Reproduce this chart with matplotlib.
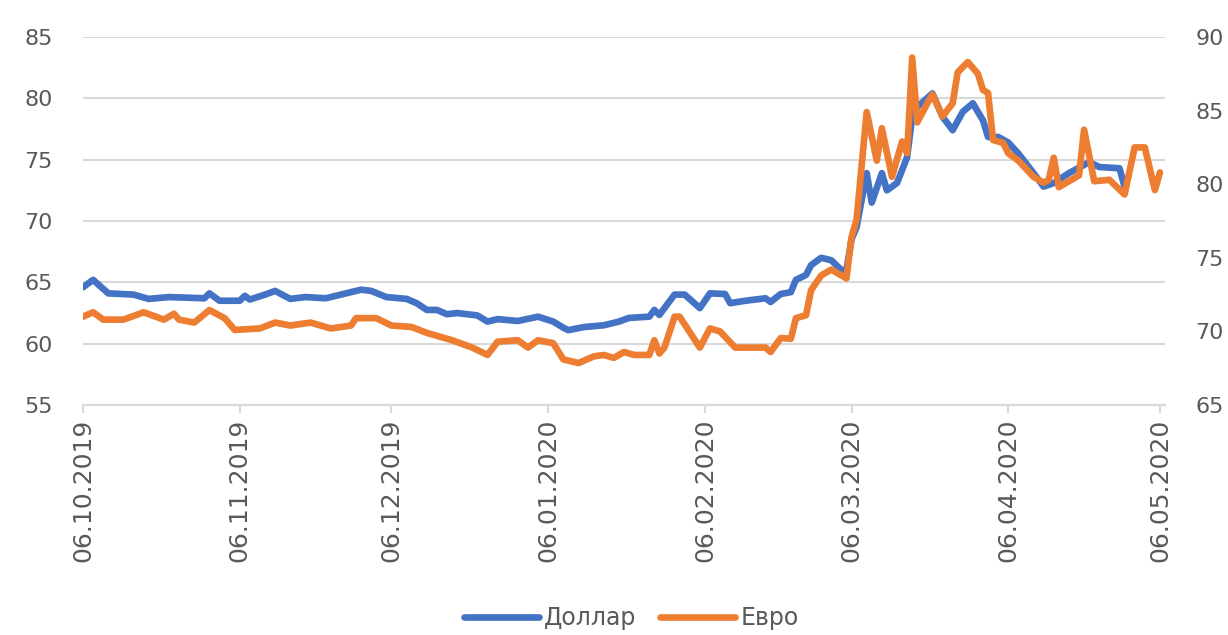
import numpy as np
import pandas as pd
import matplotlib
matplotlib.use('Agg')
import matplotlib.pyplot as plt
import matplotlib.dates as mdates

plt.rcParams['font.family'] = ['DejaVu Sans']

# ── Data ──────────────────────────────────────────────────────────────────────
usd_dates = ['2019-10-06', '2019-10-08', '2019-10-11', '2019-10-16', '2019-10-19',
             '2019-10-23', '2019-10-30', '2019-10-31', '2019-11-02', '2019-11-06',
             '2019-11-07', '2019-11-08', '2019-11-11', '2019-11-13', '2019-11-16',
             '2019-11-19', '2019-11-23', '2019-11-26', '2019-11-30', '2019-12-02',
             '2019-12-05', '2019-12-09', '2019-12-11', '2019-12-13', '2019-12-15',
             '2019-12-17', '2019-12-19', '2019-12-23', '2019-12-25', '2019-12-27',
             '2019-12-31', '2020-01-04', '2020-01-07', '2020-01-09', '2020-01-10',
             '2020-01-13', '2020-01-17', '2020-01-20', '2020-01-22', '2020-01-26',
             '2020-01-27', '2020-01-28', '2020-01-31', '2020-02-02', '2020-02-05',
             '2020-02-07', '2020-02-10', '2020-02-11', '2020-02-14', '2020-02-18',
             '2020-02-19', '2020-02-21', '2020-02-23', '2020-02-24', '2020-02-26',
             '2020-02-27', '2020-02-29', '2020-03-02', '2020-03-04', '2020-03-05',
             '2020-03-06', '2020-03-07', '2020-03-09', '2020-03-10', '2020-03-12',
             '2020-03-13', '2020-03-15', '2020-03-17', '2020-03-18', '2020-03-19',
             '2020-03-22', '2020-03-24', '2020-03-26', '2020-03-28', '2020-03-30',
             '2020-04-01', '2020-04-02', '2020-04-04', '2020-04-06', '2020-04-08',
             '2020-04-11', '2020-04-13', '2020-04-15', '2020-04-18', '2020-04-22',
             '2020-04-24', '2020-04-28', '2020-04-29']
usd_vals = [64.6, 65.2, 64.1, 64.0, 63.65,
            63.8, 63.7, 64.1, 63.5, 63.5,
            63.9, 63.6, 64.0, 64.3, 63.65,
            63.8, 63.7, 64.0, 64.4, 64.3,
            63.8, 63.65, 63.3, 62.75, 62.75,
            62.4, 62.5, 62.3, 61.8, 62.0,
            61.85, 62.2, 61.8, 61.3, 61.1,
            61.35, 61.5, 61.8, 62.1, 62.2,
            62.75, 62.35, 64.0, 64.0, 62.9,
            64.1, 64.05, 63.3, 63.5, 63.7,
            63.4, 64.05, 64.2, 65.2, 65.6,
            66.4, 67.0, 66.8, 66.0, 66.0,
            68.5, 69.5, 73.9, 71.5, 73.9,
            72.5, 73.1, 75.2, 78.5, 79.3,
            80.4, 78.5, 77.4, 78.9, 79.6,
            78.2, 76.85, 76.85, 76.4, 75.5,
            73.9, 72.8, 73.1, 73.9, 74.8,
            74.4, 74.3, 72.8]

eur_dates = ['2019-10-06', '2019-10-08', '2019-10-10', '2019-10-14', '2019-10-18',
             '2019-10-22', '2019-10-24', '2019-10-25', '2019-10-28', '2019-10-31',
             '2019-11-03', '2019-11-05', '2019-11-10', '2019-11-13', '2019-11-16',
             '2019-11-20', '2019-11-24', '2019-11-28', '2019-11-29', '2019-12-03',
             '2019-12-06', '2019-12-10', '2019-12-13', '2019-12-18', '2019-12-22',
             '2019-12-25', '2019-12-27', '2019-12-31', '2020-01-02', '2020-01-04',
             '2020-01-07', '2020-01-09', '2020-01-12', '2020-01-15', '2020-01-17',
             '2020-01-19', '2020-01-21', '2020-01-23', '2020-01-26', '2020-01-27',
             '2020-01-28', '2020-01-29', '2020-01-31', '2020-02-01', '2020-02-05',
             '2020-02-07', '2020-02-09', '2020-02-12', '2020-02-18', '2020-02-19',
             '2020-02-21', '2020-02-23', '2020-02-24', '2020-02-26', '2020-02-27',
             '2020-02-29', '2020-03-02', '2020-03-05', '2020-03-06', '2020-03-07',
             '2020-03-09', '2020-03-11', '2020-03-12', '2020-03-14', '2020-03-16',
             '2020-03-17', '2020-03-18', '2020-03-19', '2020-03-21', '2020-03-22',
             '2020-03-24', '2020-03-26', '2020-03-27', '2020-03-29', '2020-03-31',
             '2020-04-01', '2020-04-02', '2020-04-03', '2020-04-05', '2020-04-06',
             '2020-04-08', '2020-04-11', '2020-04-13', '2020-04-14', '2020-04-15',
             '2020-04-16', '2020-04-19', '2020-04-20', '2020-04-21', '2020-04-23',
             '2020-04-26', '2020-04-29', '2020-05-01', '2020-05-03', '2020-05-05',
             '2020-05-06']
eur_vals = [71.0, 71.3, 70.8, 70.8, 71.3,
            70.8, 71.2, 70.8, 70.6, 71.45,
            70.9, 70.1, 70.2, 70.6, 70.4,
            70.6, 70.2, 70.4, 70.9, 70.9,
            70.4, 70.3, 69.9, 69.4, 68.9,
            68.4, 69.3, 69.4, 68.9, 69.4,
            69.2, 68.1, 67.85, 68.3, 68.4,
            68.2, 68.6, 68.4, 68.4, 69.4,
            68.5, 68.9, 71.0, 71.0, 68.9,
            70.2, 70.0, 68.9, 68.9, 68.6,
            69.55, 69.5, 70.9, 71.1, 72.8,
            73.8, 74.2, 73.6, 76.4, 77.6,
            84.9, 81.6, 83.8, 80.5, 82.9,
            82.1, 88.6, 84.2, 85.5, 86.1,
            84.6, 85.5, 87.6, 88.3, 87.5,
            86.4, 86.2, 83.0, 82.8, 82.1,
            81.6, 80.5, 80.1, 80.3, 81.8,
            79.8, 80.4, 80.6, 83.7, 80.2,
            80.3, 79.3, 82.5, 82.5, 79.6,
            80.8]

usd_label = 'Доллар'
eur_label = 'Евро'
tick_dates = ['2019-10-06', '2019-11-06', '2019-12-06', '2020-01-06',
              '2020-02-06', '2020-03-06', '2020-04-06', '2020-05-06']
left_ticks = [55, 60, 65, 70, 75, 80, 85]
right_ticks = [65, 70, 75, 80, 85, 90]

# ── Style ─────────────────────────────────────────────────────────────────────
BLUE = '#4472C4'
ORANGE = '#ED7D31'
GRID = '#D9D9D9'
TXT = '#595959'
FS = 16
LW = 4.8

fig = plt.figure(figsize=(12.28, 6.35), dpi=100)
ax = fig.add_axes([83/1228, 1 - 405/635, (1165 - 83)/1228, (405 - 37)/635])
ax2 = ax.twinx()

ax.plot(pd.to_datetime(usd_dates), usd_vals, color=BLUE, lw=LW,
        solid_joinstyle='round', solid_capstyle='round', label=usd_label)
ax2.plot(pd.to_datetime(eur_dates), eur_vals, color=ORANGE, lw=LW,
         solid_joinstyle='round', solid_capstyle='round', label=eur_label)

ax.set_xlim(pd.Timestamp('2019-10-06'), pd.Timestamp('2020-05-07'))
ax.set_ylim(55, 85)
ax2.set_ylim(65, 90)
ax.set_yticks(left_ticks)
ax2.set_yticks(right_ticks)

ax.set_xticks(pd.to_datetime(tick_dates))
ax.xaxis.set_major_formatter(mdates.DateFormatter('%d.%m.%Y'))
ax.tick_params(axis='x', labelrotation=90, labelsize=FS + 2, colors=TXT,
               color=GRID, length=6, width=1.5, pad=4)
ax.tick_params(axis='y', labelsize=FS, colors=TXT, length=0, pad=22)
ax2.tick_params(axis='y', labelsize=FS, colors=TXT, length=0, pad=22)

ax.grid(axis='y', color=GRID, lw=1.5)
ax.set_axisbelow(True)
for a in (ax, ax2):
    for sp in ['top', 'left', 'right']:
        a.spines[sp].set_visible(False)
    a.spines['bottom'].set_color(GRID)
    a.spines['bottom'].set_linewidth(1.5)

h1, l1 = ax.get_legend_handles_labels()
h2, l2 = ax2.get_legend_handles_labels()
fig.legend(h1 + h2, l1 + l2, loc='center', bbox_to_anchor=(631/1228, 0.027),
           ncol=2, frameon=False, fontsize=FS + 1, labelcolor=TXT,
           handlelength=3.2, handletextpad=0.2, columnspacing=1.0,
           borderpad=0.1)

fig.savefig('out.png', dpi=100)
